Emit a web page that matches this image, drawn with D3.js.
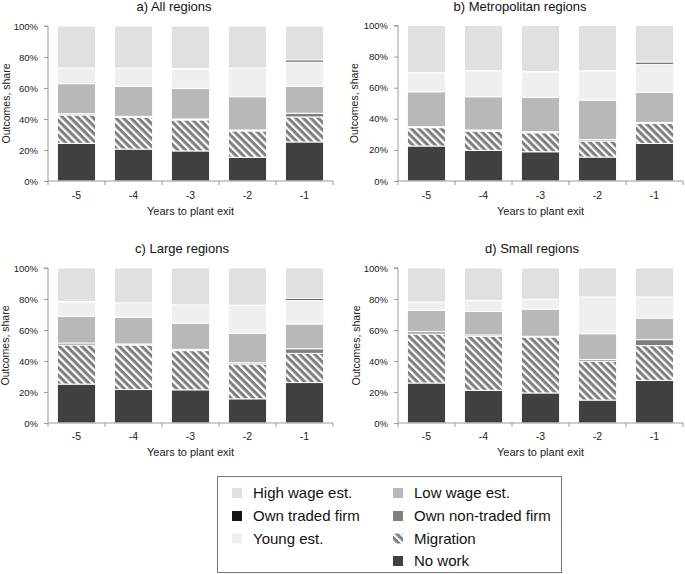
<!DOCTYPE html>
<html><head><meta charset="utf-8">
<script src="https://cdn.jsdelivr.net/npm/d3@7"></script>
<style>body{margin:0;background:#fff}svg{display:block;font-family:"Liberation Sans",Arial,sans-serif}</style>
</head><body>
<svg id="c" width="685" height="574"></svg>
<script>
const categories = ["-5","-4","-3","-2","-1"];
const panelTitles = ["a) All regions","b) Metropolitan regions","c) Large regions","d) Small regions"];
const yTicks = [0,20,40,60,80,100];
const seriesNames = ["No work","Migration","Own non-traded firm","Low wage est.","Young est.","Own traded firm","High wage est."];
// rows: panels a,b,c,d ; columns: years -5..-1 (percent)
const noWork    = [[24.3,20.6,19.4,15.3,25.2],[22.5,19.7,18.8,15.4,24.2],[25.1,21.6,21.4,15.6,26.1],[25.8,21.1,19.4,14.8,27.5]];
const migration = [[18.3,20.5,20.0,17.0,16.1],[11.8,12.4,12.2,10.3,12.8],[25.2,28.7,25.3,22.4,18.8],[31.6,34.8,36.1,25.0,22.4]];
const nonTraded = [[0.8,0.6,0.6,0.6,2.4],[0.6,0.7,0.7,0.9,0.7],[1.3,0.7,0.8,0.9,3.0],[1.5,0.9,0.4,1.1,3.9]];
const lowWage   = [[19.4,19.4,19.8,21.5,17.4],[22.5,21.4,22.0,25.4,19.3],[17.1,17.3,16.9,19.0,16.0],[13.8,15.2,17.6,16.7,13.9]];
const young     = [[9.9,11.6,12.5,18.3,15.7],[12.0,16.5,16.5,18.7,18.2],[9.5,9.0,11.6,17.9,15.1],[5.1,6.9,6.1,23.5,13.4]];
const traded    = [[0.2,0.2,0.2,0.2,1.3],[0.2,0.2,0.2,0.2,1.3],[0.2,0.2,0.2,0.2,1.2],[0.2,0.2,0.2,0.2,0.2]];
const highWage  = [[27.1,27.1,27.5,27.1,21.9],[30.4,29.1,29.6,29.1,23.5],[21.6,22.5,23.8,24.0,19.8],[22.0,20.9,20.2,18.7,18.7]];

const seriesData = [noWork, migration, nonTraded, lowWage, young, traded, highWage];
const keys = ["noWork","migration","nonTraded","lowWage","young","traded","highWage"];
const fills = {noWork:"#404040",migration:"url(#hatch)",nonTraded:"#7f7f7f",lowWage:"#b8b8b8",young:"#efefef",traded:"#141414",highWage:"#e0e0e0"};

const svg = d3.select("#c");
const defs = svg.append("defs");
const pat = defs.append("pattern").attr("id","hatch").attr("patternUnits","userSpaceOnUse")
  .attr("width",5.3).attr("height",5.3).attr("patternTransform","rotate(45)");
pat.append("rect").attr("width",5.3).attr("height",5.3).attr("fill","#ffffff");
pat.append("rect").attr("width",5.3).attr("height",3.1).attr("fill","#7f7f7f");

const layouts = [
  {x0:48,x1:333,yTop:26,yBot:181,title:[174,11],ylab:6,tickY:199,xlabY:215},
  {x0:398,x1:683,yTop:25.5,yBot:181,title:[520,11],ylab:354,tickY:199,xlabY:215},
  {x0:48,x1:333,yTop:268,yBot:423,title:[182,253],ylab:5,tickY:440,xlabY:456},
  {x0:398,x1:683,yTop:268,yBot:423,title:[532,253],ylab:356,tickY:440,xlabY:456}
];
const axisColor = "#9a9a9a";

layouts.forEach((L,p)=>{
  const g = svg.append("g");
  const x = d3.scaleBand().domain(categories).range([L.x0,L.x1]).paddingInner(0.33).paddingOuter(0.165);
  const y = d3.scaleLinear().domain([0,100]).range([L.yBot,L.yTop]);
  const rows = categories.map((c,i)=>{const o={cat:c}; keys.forEach((k,s)=>o[k]=seriesData[s][p][i]); return o;});
  const stack = d3.stack().keys(keys)(rows);
  g.selectAll("g.s").data(stack).join("g").attr("fill",d=>fills[d.key])
    .selectAll("rect").data(d=>d).join("rect")
    .attr("x",d=>x(d.data.cat)).attr("width",x.bandwidth())
    .attr("y",d=>y(d[1])).attr("height",d=>Math.max(0,y(d[0])-y(d[1])))
    .attr("stroke","#fff").attr("stroke-width",1);

  // y axis
  const ya = g.append("g").attr("transform",`translate(${L.x0},0)`)
    .call(d3.axisLeft(y).tickValues(yTicks).tickFormat(d=>d+"%").tickSize(4).tickPadding(6));
  ya.select(".domain").attr("stroke",axisColor).attr("d",`M-4,${L.yTop}H0V${L.yBot}`);
  ya.selectAll(".tick line").attr("stroke",axisColor);
  ya.selectAll(".tick text").attr("font-size",9.5).attr("fill","#222").attr("font-family","Liberation Sans, Arial, sans-serif");

  // x axis
  const xa = g.append("g").attr("transform",`translate(0,${L.yBot})`)
    .call(d3.axisBottom(x).tickSize(0).tickPadding(0));
  xa.select(".domain").attr("stroke",axisColor).attr("d",`M${L.x0},0H${L.x1}`);
  xa.selectAll(".tick text").attr("y",L.tickY-L.yBot).attr("dy",0).attr("font-size",10.5).attr("fill","#222").attr("font-family","Liberation Sans, Arial, sans-serif");
  const step = x.step();
  const bounds = d3.range(categories.length+1).map(i=>L.x0+i*step);
  g.selectAll("line.xt").data(bounds).join("line").attr("x1",d=>d).attr("x2",d=>d)
    .attr("y1",L.yBot).attr("y2",L.yBot+4).attr("stroke",axisColor);

  g.append("text").attr("x",L.title[0]).attr("y",L.title[1]).attr("text-anchor","middle")
    .attr("font-size",13).attr("fill","#111").text(panelTitles[p]);
  g.append("text").attr("x",(L.x0+L.x1)/2).attr("y",L.xlabY).attr("text-anchor","middle")
    .attr("font-size",11).attr("fill","#222").text("Years to plant exit");
  g.append("text").attr("transform",`translate(${L.ylab+4},${(L.yTop+L.yBot)/2}) rotate(-90)`)
    .attr("text-anchor","middle").attr("font-size",10.5).attr("fill","#222").text("Outcomes, share");
});

// legend
const lg = svg.append("g");
lg.append("rect").attr("x",217.5).attr("y",476.5).attr("width",344).attr("height",96).attr("fill","#fff").attr("stroke","#777").attr("stroke-width",1);
const legendItems = [
  {k:"highWage",name:"High wage est.",col:0,row:0},
  {k:"traded",name:"Own traded firm",col:0,row:1},
  {k:"young",name:"Young est.",col:0,row:2},
  {k:"lowWage",name:"Low wage est.",col:1,row:0},
  {k:"nonTraded",name:"Own non-traded firm",col:1,row:1},
  {k:"migration",name:"Migration",col:1,row:2},
  {k:"noWork",name:"No work",col:1,row:3}
];
const colX = [232,393], rowY = [493,516,538.5,561];
legendItems.forEach(it=>{
  lg.append("rect").attr("x",colX[it.col]).attr("y",rowY[it.row]-5).attr("width",10).attr("height",10).attr("fill",fills[it.k]);
  lg.append("text").attr("x",colX[it.col]+21).attr("y",rowY[it.row]+5).attr("font-size",15).attr("fill","#111").text(it.name);
});
</script>
</body></html>
